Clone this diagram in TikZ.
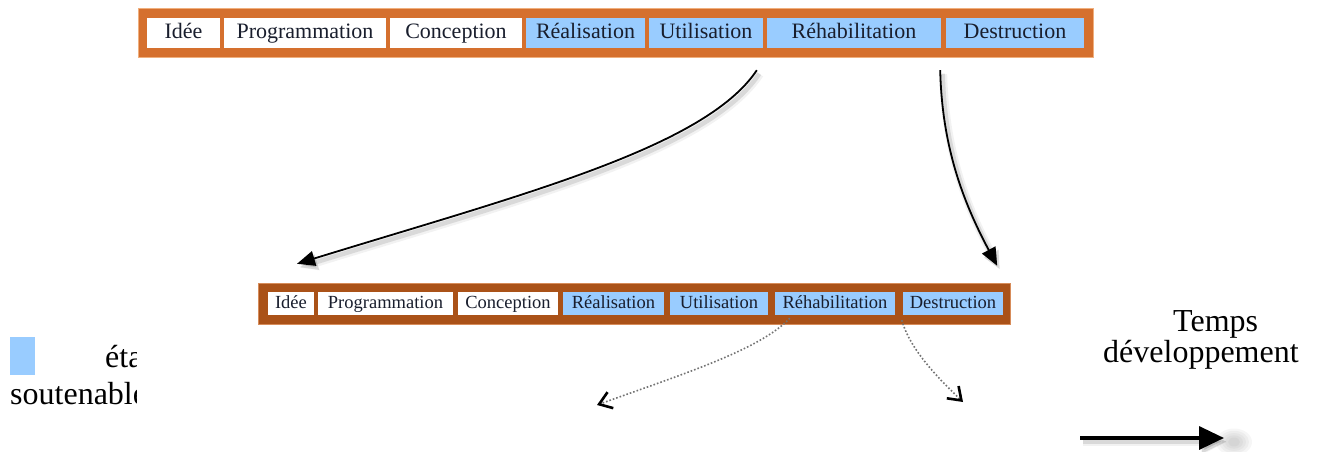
\documentclass[tikz,border=0pt]{standalone}
\usepackage{fontspec}
\setmainfont{Liberation Serif}
\usetikzlibrary{arrows.meta,calc}

\definecolor{barTop}{RGB}{213,112,46}
\definecolor{barTopEdge}{RGB}{240,175,125}
\definecolor{barLow}{RGB}{170,82,24}
\definecolor{barLowEdge}{RGB}{215,140,90}
\definecolor{phaseBlue}{RGB}{153,204,255}
\definecolor{phaseInk}{RGB}{25,30,45}

\tikzset{
  topcell/.style={inner sep=0pt, minimum height=30pt, anchor=center,
    text height=15pt, text depth=4pt, text=phaseInk,
    font=\fontsize{22}{24}\selectfont},
  lowcell/.style={inner sep=0pt, minimum height=23pt, anchor=center,
    text height=12.5pt, text depth=3.5pt, text=phaseInk,
    font=\fontsize{18.5}{20}\selectfont},
  plainphase/.style={fill=white},
  bluephase/.style={fill=phaseBlue},
  softshadow/.style={
    preaction={draw=black, opacity=0.05, line width=8pt,
      transform canvas={shift={(3pt,-4pt)}}},
    preaction={draw=black, opacity=0.10, line width=4.5pt,
      transform canvas={shift={(2.5pt,-3.5pt)}}}},
  zoomarrow/.style={draw=black, line width=1.8pt,
    -{Triangle[length=18pt,width=15pt]}, softshadow},
  subarrow/.style={draw=black!55, line width=1.6pt, dotted,
    -{Straight Barb[length=12pt,width=17pt,line width=2.6pt,color=black]}},
  caption/.style={inner sep=0pt, font=\fontsize{32}{37}\selectfont}
}

\begin{document}
\begin{tikzpicture}[x=1pt, y=-1pt]
\useasboundingbox (0,0) rectangle (1317,452);

% upper life-cycle bar
\fill[barTop] (138,9) rectangle (1093,58);
\draw[barTopEdge, line width=1pt] (138,9) rectangle (1093,58);
\node[topcell, plainphase, minimum width=73pt]  (tIdee) at (183.5,33) {Idée};
\node[topcell, plainphase, minimum width=162pt] (tProg) at (305,33) {Programmation};
\node[topcell, plainphase, minimum width=132pt] (tConc) at (456,33) {Conception};
\node[topcell, bluephase, minimum width=119pt]  (tReal) at (585.5,33) {Réalisation};
\node[topcell, bluephase, minimum width=114pt]  (tUtil) at (706,33) {Utilisation};
\node[topcell, bluephase, minimum width=174pt]  (tRehab) at (854,33) {Réhabilitation};
\node[topcell, bluephase, minimum width=138pt]  (tDest) at (1015,33) {Destruction};

% lower (detailed) life-cycle bar
\fill[barLow] (258,283) rectangle (1010,324);
\draw[barLowEdge, line width=0.8pt] (258,283) rectangle (1010,324);
\node[lowcell, plainphase, minimum width=46pt]  (lIdee) at (291,303.5) {Idée};
\node[lowcell, plainphase, minimum width=135pt] (lProg) at (385.5,303.5) {Programmation};
\node[lowcell, plainphase, minimum width=100pt] (lConc) at (508,303.5) {Conception};
\node[lowcell, bluephase, minimum width=101pt]  (lReal) at (613.5,303.5) {Réalisation};
\node[lowcell, bluephase, minimum width=98pt]   (lUtil) at (719,303.5) {Utilisation};
\node[lowcell, bluephase, minimum width=120pt]  (lRehab) at (835,303.5) {Réhabilitation};
\node[lowcell, bluephase, minimum width=100pt]  (lDest) at (953,303.5) {Destruction};

% ends of the zoom arrows
\coordinate (zoomFromL) at ($(tRehab.south west)+(-10,22)$);
\coordinate (zoomFromR) at ($(tRehab.south east)+(-1,22)$);
\coordinate (zoomToL)   at ($(lIdee.north)+(6,-28)$);
\coordinate (zoomToR)   at ($(lDest.north east)+(-6,-26)$);

\path[zoomarrow] (zoomFromL) .. controls (705,148) and (520,195) .. (zoomToL);
\path[zoomarrow] (zoomFromR) .. controls (942,145) and (962,200) .. (zoomToR);

% dotted arrows leaving the lower bar
\coordinate (subFromL) at ($(lRehab.south west)+(15,3)$);
\coordinate (subFromR) at ($(lDest.south west)+(-1,5)$);
\coordinate (subToL)   at (597,405);
\coordinate (subToR)   at (963,402);
\path[subarrow] (subFromL) .. controls (760,350) and (680,375) .. (subToL);
\path[subarrow] (subFromR) .. controls (910,350) and (940,380) .. (subToR);

% legend on the left, cut off by its frame
\fill[phaseBlue] (10,337) rectangle (35,375);
\begin{scope}
  \clip (0,300) rectangle (136,452);
  \node[caption, anchor=base west] (legState) at (105,367) {état};
  \node[caption, anchor=base west] (legSust) at (10,404) {soutenable};
\end{scope}

% time axis caption and arrow
\node[caption, anchor=base west] (timeWord) at (1173,331) {Temps};
\node[caption, anchor=base west] (devWord) at (1103,362) {développement};
\coordinate (timeFrom) at (1080,438);
\coordinate (timeTo) at (1224,438);
% soft blurred shadow behind the arrow head
\foreach \r in {18,15,12,9,6}
  \fill[black, opacity=0.035] (1234,442) ellipse ({\r pt} and {0.75*\r pt});
\path[draw=black, line width=3.5pt, -{Triangle[length=25pt,width=23pt]},
  softshadow] (timeFrom) -- (timeTo);
\end{tikzpicture}
\end{document}
